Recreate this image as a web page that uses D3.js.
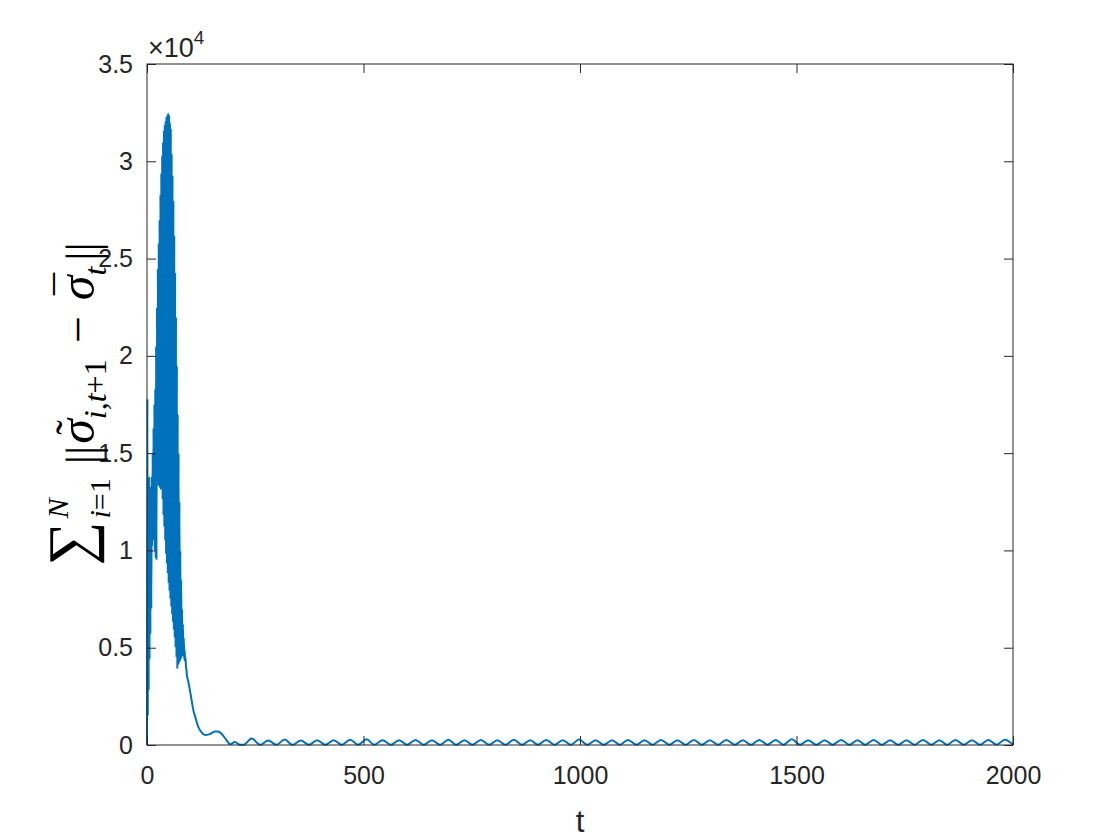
<!DOCTYPE html>
<html>
<head>
<meta charset="utf-8">
<script src="https://cdn.jsdelivr.net/npm/d3@7"></script>
<style>
  body { margin: 0; background: #fff; }
  svg { display: block; }
</style>
</head>
<body>
<div id="chart"></div>
<script>
// tick values
var xTicks = [0, 500, 1000, 1500, 2000];
var yTicks = [0, 5000, 10000, 15000, 20000, 25000, 30000, 35000];
var yTickLabels = ["0", "0.5", "1", "1.5", "2", "2.5", "3", "3.5"];

// one value per step, t = 0..92 (the dense oscillating part)
var bandValues = [
  0, 17800, 1500, 13500, 2800, 13800, 4400, 12500, 5700, 13300,
  7000, 13800, 10200, 15000, 10500, 16300, 10800, 17500, 10000, 18300,
  9600, 20500, 9500, 22500, 13300, 24500, 13500, 25800, 13300, 27000,
  13200, 28300, 13100, 29400, 13200, 30300, 12600, 31000, 11800, 31600,
  11200, 31900, 10500, 32100, 9800, 32300, 9300, 32400, 8800, 32500,
  8300, 32400, 7900, 32000, 7500, 31700, 7100, 30400, 6700, 29300,
  6300, 28000, 5900, 26200, 5500, 24300, 5000, 22000, 4500, 19500,
  3900, 17000, 4100, 15000, 4200, 12500, 4300, 10000, 4400, 8500,
  4500, 7000, 4600, 6200, 4600, 5500, 4400, 4900, 4300, 4500,
  4000, 3900, 3600
];

// decay after the band, [t, value]
var decayPoints = [
  [95, 3300], [99, 2830], [103, 2300], [107, 1800], [112, 1400], [118, 950],
  [126, 650], [134, 510], [145, 560], [157, 700], [164, 700], [172, 580],
  [182, 300], [192, 40], [203, 150], [215, 10]
];

// slow ripple in the tail, [t, value]
var tailPoints = [
  [223,10],[242,330],[261,10],[280,230],[299,15],[318,280],[336,10],[355,230],
  [374,15],[393,250],[412,10],[431,250],[450,10],[469,270],[488,15],[507,290],
  [525,10],[544,240],[563,10],[582,250],[601,15],[620,260],[639,10],[658,250],
  [677,15],[696,270],[714,10],[733,250],[752,15],[771,260],[790,10],[809,250],
  [828,15],[847,270],[866,10],[885,250],[903,15],[922,260],[941,10],[960,250],
  [979,15],[998,280],[1017,10],[1036,250],[1055,15],[1074,250],[1092,10],[1111,260],
  [1130,15],[1149,250],[1168,10],[1187,260],[1206,15],[1225,250],[1244,10],[1263,260],
  [1281,15],[1300,250],[1319,10],[1338,260],[1357,15],[1376,250],[1395,10],[1414,260],
  [1433,15],[1452,260],[1470,10],[1489,290],[1508,15],[1527,250],[1546,10],[1565,250],
  [1584,15],[1603,260],[1622,10],[1641,250],[1659,15],[1678,260],[1697,10],[1716,250],
  [1735,15],[1754,250],[1773,10],[1792,260],[1811,15],[1830,250],[1848,10],[1867,260],
  [1886,15],[1905,250],[1924,10],[1943,260],[1962,15],[1981,270],[2000,20]
];

var width = 1120, height = 840;
var plotLeft = 147, plotRight = 1013, plotTop = 64, plotBottom = 745;
var axisColor = "#262626";
var lineColor = "#0072BD";

var data = bandValues.map(function(v, i) { return [i, v]; })
  .concat(decayPoints)
  .concat(tailPoints);

var svg = d3.select("#chart")
  .append("svg")
    .attr("width", width)
    .attr("height", height)
    .style("font-family", "'Liberation Sans', Arial, sans-serif");

var x = d3.scaleLinear().domain([0, 2000]).range([plotLeft, plotRight]);
var y = d3.scaleLinear().domain([0, 35000]).range([plotBottom, plotTop]);

// the series
svg.append("path")
  .datum(data)
  .attr("fill", "none")
  .attr("stroke", lineColor)
  .attr("stroke-width", 2)
  .attr("stroke-linejoin", "round")
  .attr("d", d3.line()
    .x(function(d) { return x(d[0]); })
    .y(function(d) { return y(d[1]); })
    .curve(d3.curveMonotoneX));

// axes, matlab style: ticks pointing inward on all four sides
function styleAxis(g) {
  g.select(".domain").remove();
  g.selectAll(".tick line").attr("stroke", axisColor);
  g.selectAll(".tick text").attr("fill", axisColor).style("font-size", "25px");
}

svg.append("g")
  .attr("transform", "translate(0," + plotBottom + ")")
  .call(d3.axisBottom(x).tickValues(xTicks).tickSizeInner(-9).tickSizeOuter(0).tickPadding(21)
    .tickFormat(d3.format("d")))
  .call(styleAxis);

svg.append("g")
  .attr("transform", "translate(0," + plotTop + ")")
  .call(d3.axisTop(x).tickValues(xTicks).tickSizeInner(-9).tickSizeOuter(0).tickFormat(""))
  .call(styleAxis);

svg.append("g")
  .attr("transform", "translate(" + plotLeft + ",0)")
  .call(d3.axisLeft(y).tickValues(yTicks).tickSizeInner(-9).tickSizeOuter(0).tickPadding(14)
    .tickFormat(function(d, i) { return yTickLabels[i]; }))
  .call(styleAxis);

svg.append("g")
  .attr("transform", "translate(" + plotRight + ",0)")
  .call(d3.axisRight(y).tickValues(yTicks).tickSizeInner(-9).tickSizeOuter(0).tickFormat(""))
  .call(styleAxis);

// box
svg.append("rect")
  .attr("x", plotLeft)
  .attr("y", plotTop)
  .attr("width", plotRight - plotLeft)
  .attr("height", plotBottom - plotTop)
  .attr("fill", "none")
  .attr("stroke", axisColor)
  .attr("stroke-width", 1);

// exponent
var expo = svg.append("text")
  .attr("x", plotLeft + 1)
  .attr("y", 57)
  .attr("fill", axisColor)
  .style("font-size", "27px");
expo.append("tspan").text("\u00d710");
expo.append("tspan").attr("dy", -13).style("font-size", "19px").text("4");

// x label
svg.append("text")
  .attr("x", (plotLeft + plotRight) / 2)
  .attr("y", 832)
  .attr("text-anchor", "middle")
  .attr("fill", axisColor)
  .style("font-size", "31px")
  .text("t");

// y label, laid out piece by piece like latex
var yl = svg.append("g").attr("transform", "translate(94,404) rotate(-90)");
var inner = yl.append("g").style("font-family", "'Liberation Serif', 'Times New Roman', serif")
  .attr("fill", "#000");
var cx = 0;

function piece(parts, size, dy, px) {
  var t = inner.append("text")
    .attr("x", px === undefined ? cx : px)
    .attr("y", dy)
    .style("font-size", size + "px");
  parts.forEach(function(p) {
    t.append("tspan").style("font-style", p[1] ? "italic" : "normal").text(p[0]);
  });
  return t.node().getComputedTextLength();
}

var w;
w = piece([["\u2211", 0]], 62, -3);
cx += w + 3;
var wN = piece([["N", 1]], 30, -26);
var wI = piece([["i", 1], ["=1", 0]], 30, 16);
cx += Math.max(wN, wI) + 14;
w = piece([["||", 0]], 46, 4);
cx += w + 2;
var s0 = cx;
w = piece([["\u03c3", 1]], 50, 0);
inner.append("text").attr("x", s0 + w / 2 + 4).attr("y", -8).attr("text-anchor", "middle")
  .style("font-size", "44px").text("\u02dc");
cx += w;
w = piece([["i", 1], [",", 0], ["t", 1], ["+1", 0]], 32, 12);
cx += w + 16;
w = piece([["\u2212", 0]], 48, 0);
cx += w + 16;
s0 = cx;
w = piece([["\u03c3", 1]], 50, 0);
inner.append("text").attr("x", s0 + w / 2 + 4).attr("y", -7).attr("text-anchor", "middle")
  .style("font-size", "44px").text("\u00af");
cx += w;
w = piece([["t", 1]], 32, 12);
cx += w + 6;
w = piece([["||", 0]], 46, 4);
cx += w;
inner.attr("transform", "translate(" + (-cx / 2) + ",0)");
</script>
</body>
</html>
